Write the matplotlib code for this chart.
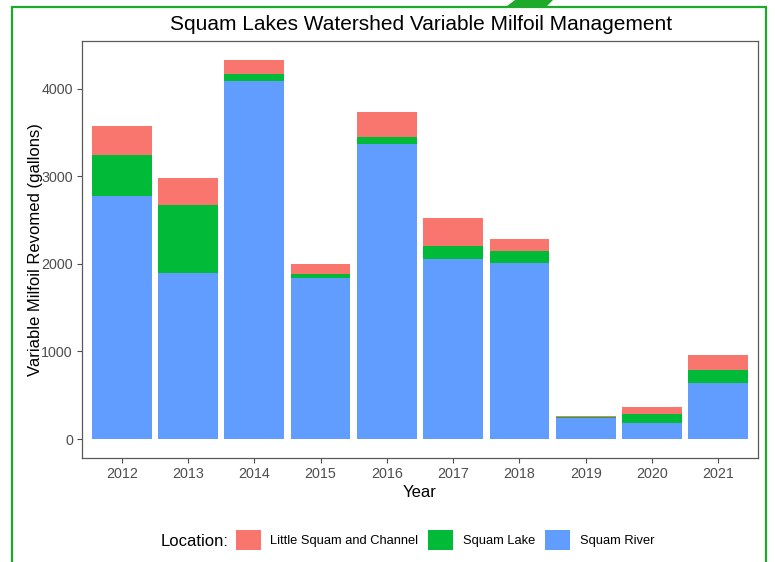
import matplotlib
matplotlib.use("Agg")
import matplotlib.pyplot as plt
from matplotlib.patches import Patch, Rectangle, Polygon
import numpy as np

plt.rcParams['font.family'] = ['Liberation Sans', 'DejaVu Sans']

# data
years = ['2012', '2013', '2014', '2015', '2016', '2017', '2018', '2019', '2020', '2021']
squam_river = [2780, 1900, 4090, 1840, 3375, 2060, 2015, 243, 186, 640]
squam_lake = [470, 770, 80, 50, 75, 145, 130, 10, 95, 150]
little_squam = [325, 310, 160, 110, 280, 315, 140, 13, 90, 175]
locations = ['Little Squam and Channel', 'Squam Lake', 'Squam River']
colors = ['#F8766D', '#00BA38', '#619CFF']

W, H = 775, 562
fig = plt.figure(figsize=(W / 100, H / 100), dpi=100)
ax = fig.add_axes([82 / W, 1 - 458 / H, (758 - 82) / W, (458 - 41) / H])

x = np.arange(len(years))
river = np.array(squam_river)
lake = np.array(squam_lake)
little = np.array(little_squam)
ax.bar(x, river, width=0.9, color=colors[2], edgecolor='none')
ax.bar(x, lake, width=0.9, bottom=river, color=colors[1], edgecolor='none')
ax.bar(x, little, width=0.9, bottom=river + lake, color=colors[0], edgecolor='none')

top = (river + lake + little).max()
ax.set_xlim(-0.6, len(years) - 0.4)
ax.set_ylim(-0.05 * top, 1.05 * top)
ax.set_xticks(x)
ax.set_xticklabels(years)
ax.set_yticks([0, 1000, 2000, 3000, 4000])
ax.tick_params(colors='#4D4D4D', labelsize=10.3, length=3.5, width=0.8, pad=3)
for sp in ax.spines.values():
    sp.set_color('#5a5a5a')
    sp.set_linewidth(0.9)

ax.set_xlabel('Year', fontsize=12, labelpad=3)
ax.set_ylabel('Variable Milfoil Revomed (gallons)', fontsize=12, labelpad=-1)
fig.text(421 / W, 1 - 24 / H, 'Squam Lakes Watershed Variable Milfoil Management',
         ha='center', va='center', fontsize=15)

# legend at bottom
handles = [Patch(facecolor=c, edgecolor='none') for c in colors]
fig.legend(handles, locations, loc='center', bbox_to_anchor=(445 / W, 1 - 540 / H),
           ncol=3, frameon=False, fontsize=9.3, handlelength=1.95, handleheight=2.1,
           handletextpad=0.75, columnspacing=0.75)
fig.text(228 / W, 1 - 541 / H, 'Location:', ha='right', va='center', fontsize=12)

# green frame around the picture
green = '#1DAA2B'
fig.patches.append(Rectangle((12 / W, -0.05), (766 - 12) / W, 1.05 - 7 / H,
                             transform=fig.transFigure, fill=False,
                             edgecolor=green, linewidth=1.6))
fig.patches.append(Polygon([(507 / W, 1 - 6 / H), (515 / W, 1.0), (553 / W, 1.0), (547 / W, 1 - 6 / H)],
                           closed=True, transform=fig.transFigure,
                           facecolor=green, edgecolor='none'))

fig.savefig('out.png', dpi=100)
